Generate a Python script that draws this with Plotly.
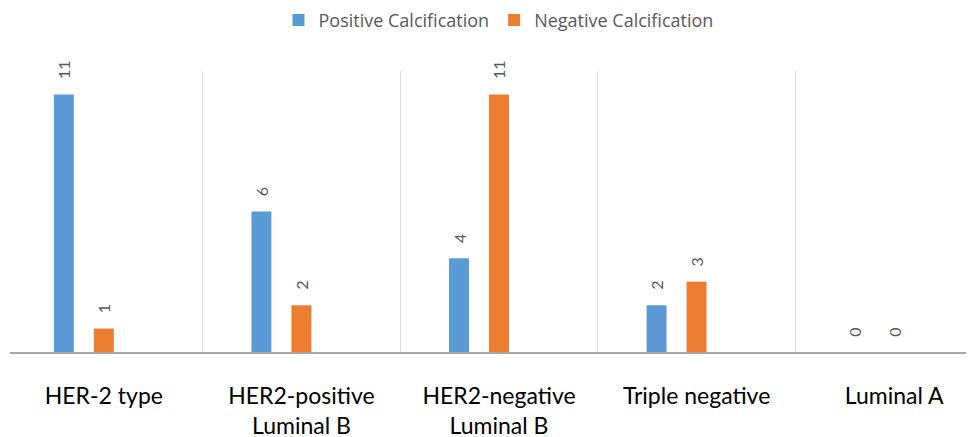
import plotly.graph_objects as go

categories = ["HER-2 type", "HER2-positive<br>Luminal B", "HER2-negative<br>Luminal B",
              "Triple negative", "Luminal A"]
positive = [11, 6, 4, 2, 0]
negative = [1, 2, 11, 3, 0]
series_names = ["Positive Calcification", "Negative Calcification"]
colors = ["#5B9BD5", "#ED7D31"]

bar_w = 0.101
offsets = [-0.253, -0.0506]
pad = "\u00a0\u00a0\u00a0"

fig = go.Figure()
for name, vals, col, off in zip(series_names, [positive, negative], colors, offsets):
    fig.add_trace(go.Bar(
        x=categories, y=vals, name=name,
        marker=dict(color=col, line=dict(width=0)),
        width=bar_w, offset=off,
        text=[pad + str(v) for v in vals], textposition="outside", textangle=-90,
        textfont=dict(family="Lato", size=16, color="#595959"),
        constraintext="none",
        cliponaxis=False,
    ))

fig.update_layout(
    width=974, height=437,
    margin=dict(l=2, r=8, t=63, b=93, autoexpand=False),
    paper_bgcolor="white", plot_bgcolor="white",
    barmode="group",
    showlegend=True,
    legend=dict(orientation="h", x=0.5036, xanchor="center", xref="container",
                y=0.972, yanchor="middle", yref="container",
                font=dict(family="Open Sans", size=18, color="#595959"),
                itemwidth=30, tracegroupgap=0, borderwidth=0,
                bgcolor="rgba(0,0,0,0)"),
    xaxis=dict(
        range=[-0.475, 4.404], automargin=False,
        tickson="boundaries", showgrid=True, gridcolor="#d9d9d9", gridwidth=1,
        showline=True, linecolor="#a6a6a6", linewidth=2,
        ticks="", ticklabelstandoff=22,
        tickfont=dict(family="Lato", size=23, color="#000000"),
    ),
    yaxis=dict(range=[0, 12], visible=False, showgrid=False, zeroline=False),
)

fig.write_html("out.html")
